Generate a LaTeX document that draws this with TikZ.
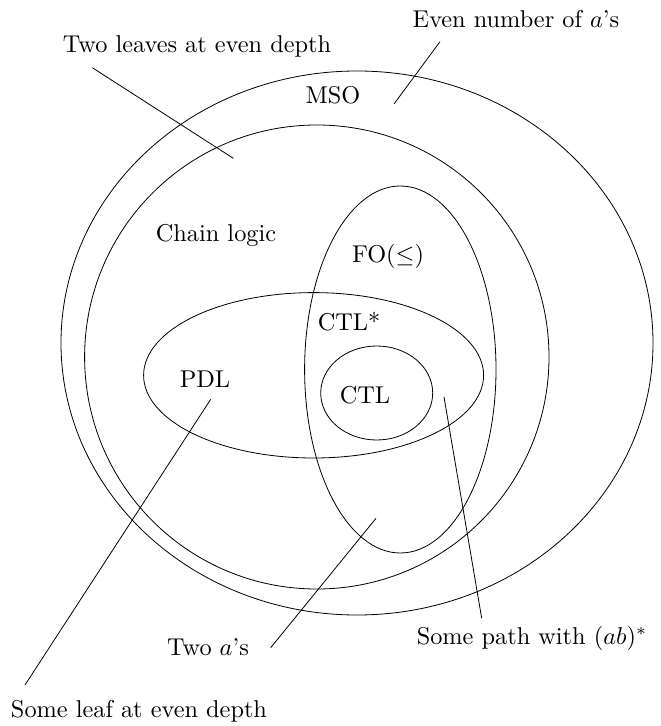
\documentclass[tikz,border=0pt]{standalone}
\begin{document}
\begin{tikzpicture}[x=0.4975pt, y=-0.4975pt,
  region/.style={draw, line width=0.4pt},
  pointer/.style={draw, line width=0.4pt},
  lbl/.style={inner sep=0pt, outer sep=0pt, scale=1.21, transform shape}]
\useasboundingbox (0,0) rectangle (660,726);

% nested classes of tree languages
\draw[region] (357,343)   ellipse [x radius=296,   y radius=272];   % MSO
\draw[region] (316.8,357) ellipse [x radius=232.2, y radius=232];   % chain logic
\draw[region] (400.3,369.5) ellipse [x radius=95.7, y radius=183.5]; % FO(<=)
\draw[region] (313.6,375.3) ellipse [x radius=170,  y radius=82.7];  % CTL*
\draw[region] (376.7,393) ellipse [x radius=56,    y radius=47];    % CTL

% class names
\node[lbl] (mso)   at (333,95)  {MSO};
\node[lbl] (chain) at (216,235) {Chain logic};
\node[lbl] (fo)    at (388,256) {FO($\leq$)};
\node[lbl] (ctls)  at (349,322) {CTL*};
\node[lbl] (pdl)   at (205,379) {PDL};
\node[lbl] (ctl)   at (365,395) {CTL};

% example languages
\node[lbl] (even)   at (516,19)  {Even number of $a$'s};
\node[lbl] (twolv)  at (197,46)  {Two leaves at even depth};
\node[lbl] (twoa)   at (208,647) {Two $a$'s};
\node[lbl] (path)   at (532,638) {Some path with $(ab)^*$};
\node[lbl] (leaf)   at (139,711) {Some leaf at even depth};

% pointer end points
\coordinate (evenA)  at (440,41.7);
\coordinate (evenB)  at (394,104);
\coordinate (twolvA) at (92.3,67.7);
\coordinate (twolvB) at (233.3,158.3);
\coordinate (leafA)  at (25,685);
\coordinate (leafB)  at (210.7,399.3);
\coordinate (twoaA)  at (270.7,647.7);
\coordinate (twoaB)  at (376,518.3);
\coordinate (pathA)  at (481.7,618.3);
\coordinate (pathB)  at (444,397);

\draw[pointer] (evenA)  -- (evenB);
\draw[pointer] (twolvA) -- (twolvB);
\draw[pointer] (leafA)  -- (leafB);
\draw[pointer] (twoaA)  -- (twoaB);
\draw[pointer] (pathA)  -- (pathB);
\end{tikzpicture}
\end{document}
